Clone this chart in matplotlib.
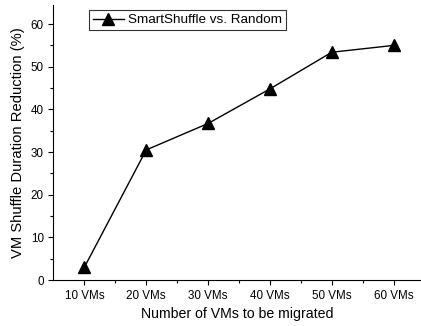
import numpy as np
import matplotlib
matplotlib.use("Agg")
import matplotlib.pyplot as plt
from matplotlib.ticker import MultipleLocator, FixedLocator

plt.rcParams['font.family'] = ['Liberation Sans', 'DejaVu Sans']

categories = ['10 VMs', '20 VMs', '30 VMs', '40 VMs', '50 VMs', '60 VMs']
reduction = [3.0, 30.5, 36.7, 44.8, 53.4, 55.0]

fig = plt.figure(figsize=(4.21, 3.26), dpi=100)
ax = fig.add_axes([0.127, 0.141, 0.871, 0.844])

x = np.arange(len(categories))
ax.plot(x, reduction, color='black', lw=1, marker='^', markersize=8,
        label='SmartShuffle vs. Random')

ax.set_xlim(-0.5, 5.43)
ax.set_ylim(0, 64.5)
ax.set_xticks(x)
ax.set_xticklabels(categories)
ax.xaxis.set_minor_locator(FixedLocator(x[:-1] + 0.5))
ax.yaxis.set_major_locator(MultipleLocator(10))
ax.yaxis.set_minor_locator(MultipleLocator(5))
ax.tick_params(axis='both', which='major', labelsize=8.4, length=3.5, width=0.8, direction='out')
ax.tick_params(axis='both', which='minor', length=2, width=0.8, direction='out')

ax.spines['top'].set_visible(False)
ax.spines['right'].set_visible(False)

ax.set_xlabel('Number of VMs to be migrated', fontsize=10.2)
ax.set_ylabel('VM Shuffle Duration Reduction (%)', fontsize=10.6)

leg = ax.legend(loc='upper left', bbox_to_anchor=(0.096, 0.982), fontsize=9.7,
                frameon=True, fancybox=False, edgecolor='black',
                handlelength=2.3, borderpad=0.3, borderaxespad=0,
                handletextpad=0.3)
leg.get_frame().set_linewidth(0.8)

fig.savefig('out.png', dpi=100)
